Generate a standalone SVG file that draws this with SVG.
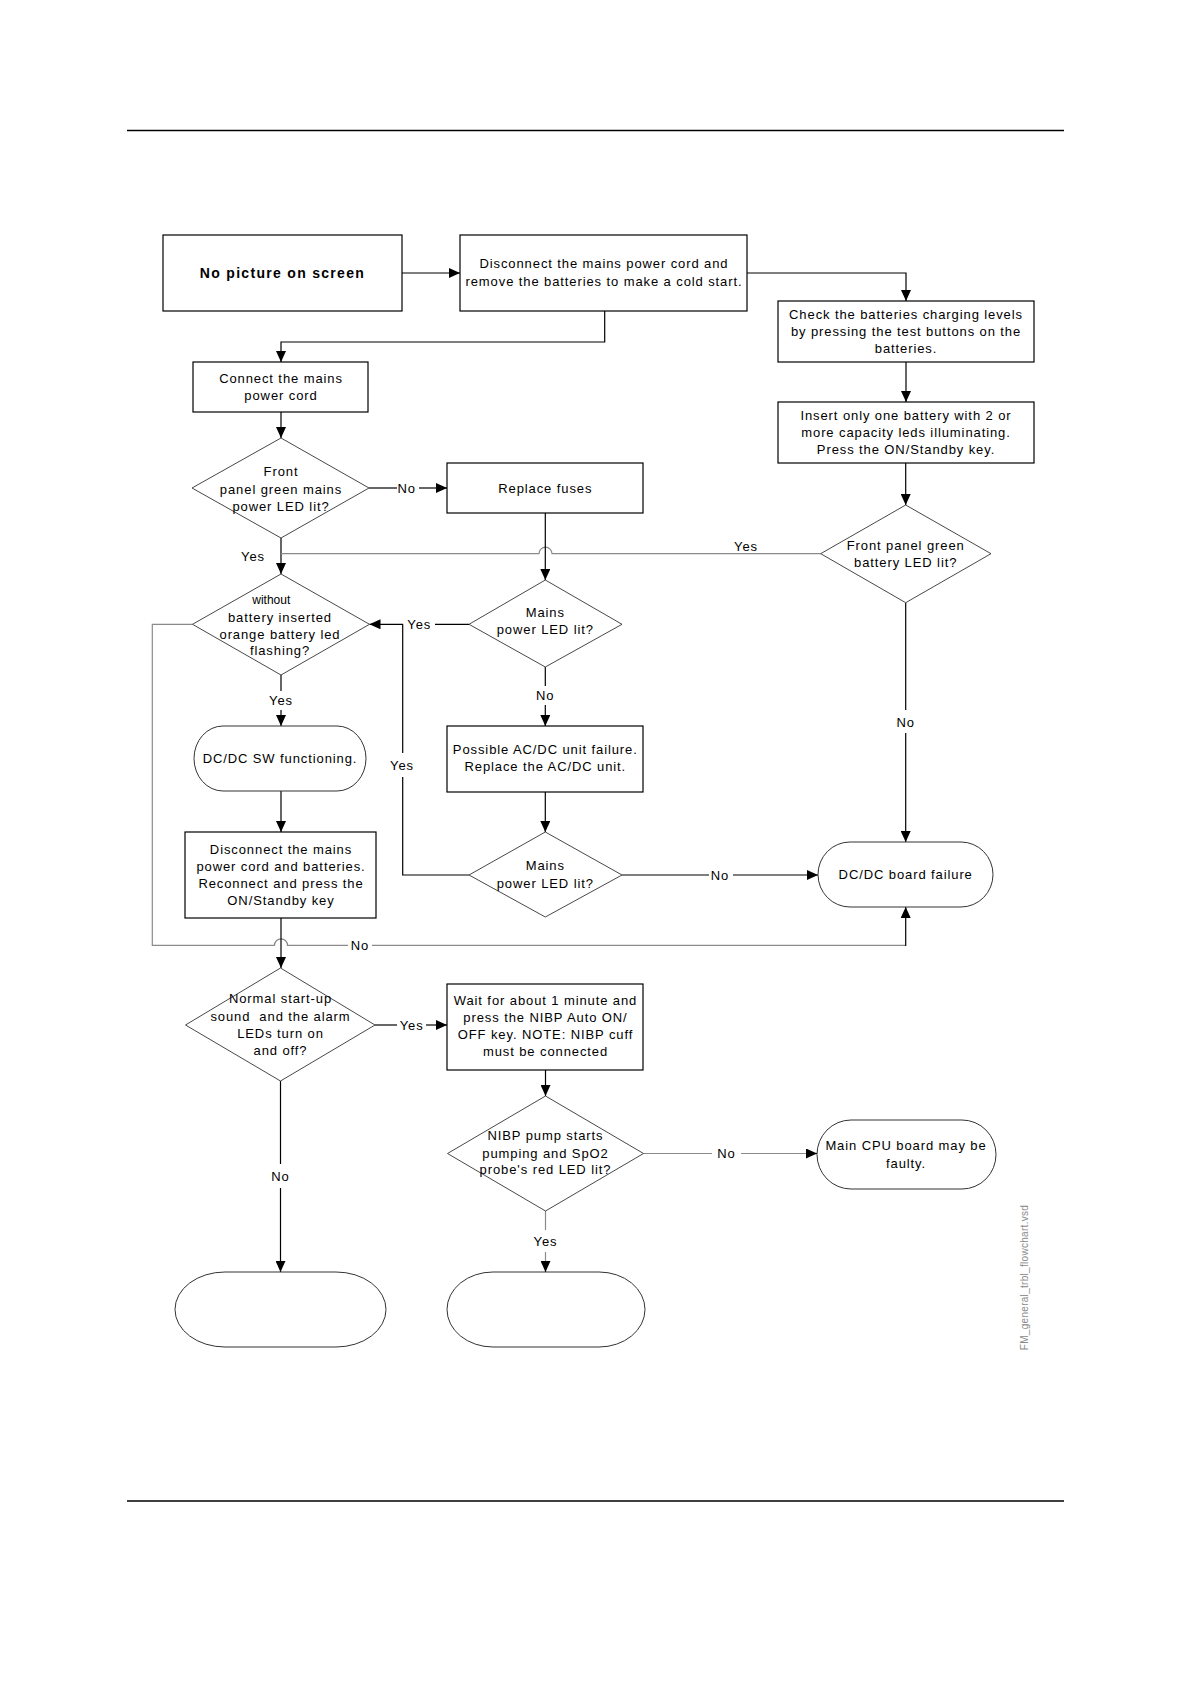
<svg xmlns="http://www.w3.org/2000/svg" width="1190" height="1684" viewBox="0 0 1190 1684">
<defs>
<marker id="ah" viewBox="0 0 11 10" refX="11" refY="5" markerWidth="11" markerHeight="10" markerUnits="userSpaceOnUse" orient="auto"><path d="M0,0 L11,5 L0,10 z" fill="#000"/></marker>
<style>
.box{fill:#fff;stroke:#000;stroke-width:1.2}
.dia{fill:#fff;stroke:#333;stroke-width:0.9}
.term{fill:#fff;stroke:#333;stroke-width:1}
.t{font-family:"Liberation Sans",Arial,sans-serif;font-size:13px;letter-spacing:0.9px;fill:#000;text-anchor:middle}
.b{font-weight:bold;font-size:14px;letter-spacing:1.3px}
.s{font-size:12px;letter-spacing:0}
.c{fill:none;stroke:#000;stroke-width:1.2}
.g{fill:none;stroke:#8a8a8a;stroke-width:1.2}
.rule{stroke:#000;stroke-width:1.4}
</style>
</defs>
<rect width="1190" height="1684" fill="#fff"/>
<line class="rule" x1="127" y1="130.5" x2="1064" y2="130.5"/>
<line class="rule" x1="127" y1="1501" x2="1064" y2="1501" stroke-width="1.6"/>
<text transform="translate(1028,1277.5) rotate(-90)" font-family="'Liberation Sans',Arial,sans-serif" font-size="10" letter-spacing="0.3" fill="#8a8a8a" text-anchor="middle">FM_general_trbl_flowchart.vsd</text>

<g id="connectors">
<path class="c" d="M402,273 H460" marker-end="url(#ah)"/>
<path class="c" d="M747,273 H906 V301" marker-end="url(#ah)"/>
<path class="c" d="M604.7,311 V342 H281 V362" marker-end="url(#ah)"/>
<path class="c" d="M906,362 V402" marker-end="url(#ah)"/>
<path class="c" d="M905.7,463 V505" marker-end="url(#ah)"/>
<path class="c" d="M281,412 V438" marker-end="url(#ah)"/>
<path class="c" d="M369,488 H397"/>
<path class="c" d="M419,488 H447" marker-end="url(#ah)"/>
<path class="c" d="M281,538 V574" marker-end="url(#ah)"/>
<path class="g" d="M820.7,553.7 H552 A6.5,6.5 0 0 0 539,553.7 H281"/>
<path class="c" d="M545.3,513 V580" marker-end="url(#ah)"/>
<path class="c" d="M469,624.3 H435"/>
<path class="c" d="M403,624.3 H369.5" marker-end="url(#ah)"/>
<path class="c" d="M402.7,624.3 V753"/>
<path class="c" d="M402.7,777 V875 H469"/>
<path class="c" d="M281,675 V691"/>
<path class="c" d="M281,710 V726" marker-end="url(#ah)"/>
<path class="g" d="M192.5,624.3 H152.3 V945.3 H274.5 A6.5,6.5 0 0 1 287.5,945.3 H348"/>
<path class="g" d="M372,945.3 H905.7"/>
<path class="c" d="M905.7,946 V907" marker-end="url(#ah)"/>
<path class="c" d="M545.3,667 V686"/>
<path class="c" d="M545.3,705 V726" marker-end="url(#ah)"/>
<path class="c" d="M545.3,792 V832" marker-end="url(#ah)"/>
<path class="c" d="M622,875 H709"/>
<path class="c" d="M733,875 H818" marker-end="url(#ah)"/>
<path class="c" d="M905.7,602.7 V710"/>
<path class="c" d="M905.7,733 V842" marker-end="url(#ah)"/>
<path class="c" d="M281,791 V832" marker-end="url(#ah)"/>
<path class="c" d="M281,918 V968" marker-end="url(#ah)"/>
<path class="c" d="M375,1025 H397"/>
<path class="c" d="M426,1025 H447" marker-end="url(#ah)"/>
<path class="c" d="M545.5,1070 V1096" marker-end="url(#ah)"/>
<path class="c" d="M280.5,1081 V1164"/>
<path class="c" d="M280.5,1188 V1272" marker-end="url(#ah)"/>
<path class="g" d="M545.5,1211 V1230"/>
<path class="g" d="M545.5,1252 V1265"/>
<path class="c" d="M545.5,1264 V1272" marker-end="url(#ah)"/>
<path class="g" d="M643.5,1153.5 H712"/>
<path class="g" d="M741,1153.5 H810"/>
<path class="c" d="M808,1153.5 H817" marker-end="url(#ah)"/>
<text class="t" x="406.7" y="493">No</text>
<text class="t" x="253" y="561">Yes</text>
<text class="t" x="746" y="551">Yes</text>
<text class="t" x="419.3" y="629">Yes</text>
<text class="t" x="402" y="770">Yes</text>
<text class="t" x="281" y="705">Yes</text>
<text class="t" x="360" y="950">No</text>
<text class="t" x="545.3" y="700">No</text>
<text class="t" x="720" y="880">No</text>
<text class="t" x="905.7" y="727">No</text>
<text class="t" x="411.7" y="1030">Yes</text>
<text class="t" x="280.5" y="1181">No</text>
<text class="t" x="545.5" y="1246">Yes</text>
<text class="t" x="726.4" y="1158">No</text>
</g>

<g id="n1"><rect class="box" x="163" y="235" width="239" height="76"/><text class="t b" x="282.5" y="278">No picture on screen</text></g>
<g id="n2"><rect class="box" x="460" y="235" width="287" height="76"/><text class="t" x="604" y="268">Disconnect the mains power cord and</text><text class="t" x="604" y="286">remove the batteries to make a cold start.</text></g>
<g id="n3"><rect class="box" x="778" y="301" width="256" height="61"/><text class="t" x="906" y="319">Check the batteries charging levels</text><text class="t" x="906" y="336">by pressing the test buttons on the</text><text class="t" x="906" y="353">batteries.</text></g>
<g id="n4"><rect class="box" x="778" y="402" width="256" height="61"/><text class="t" x="906" y="420">Insert only one battery with 2 or</text><text class="t" x="906" y="437">more capacity leds illuminating.</text><text class="t" x="906" y="454">Press the ON/Standby key.</text></g>
<g id="n5"><rect class="box" x="193" y="362" width="175" height="50"/><text class="t" x="281" y="383">Connect the mains</text><text class="t" x="281" y="400">power cord</text></g>
<g id="d1"><polygon class="dia" points="281,438 369,488 281,538 192,488"/><text class="t" x="281" y="476">Front</text><text class="t" x="281" y="494">panel green mains</text><text class="t" x="281" y="511">power LED lit?</text></g>
<g id="n6"><rect class="box" x="447" y="463" width="196" height="50"/><text class="t" x="545.3" y="493">Replace fuses</text></g>
<g id="d6"><polygon class="dia" points="905.7,505 991,553.7 905.7,602.7 820.7,553.7"/><text class="t" x="905.7" y="550">Front panel green</text><text class="t" x="905.7" y="567">battery LED lit?</text></g>
<g id="d2"><polygon class="dia" points="281,574 369.5,624.3 281,675 192.5,624.3"/><text class="t s" x="271.3" y="604">without</text><text class="t" x="280" y="622">battery inserted</text><text class="t" x="280" y="639">orange battery led</text><text class="t" x="280" y="655">flashing?</text></g>
<g id="d3"><polygon class="dia" points="545.3,580 622,624.3 545.3,667 469,624.3"/><text class="t" x="545.3" y="617">Mains</text><text class="t" x="545.3" y="634">power LED lit?</text></g>
<g id="n7"><rect class="box" x="447" y="726" width="196" height="66"/><text class="t" x="545.3" y="754">Possible AC/DC unit failure.</text><text class="t" x="545.3" y="771">Replace the AC/DC unit.</text></g>
<g id="n8"><rect class="term" x="194" y="726" width="172" height="65" rx="29" ry="32.5"/><text class="t" x="280" y="763">DC/DC SW functioning.</text></g>
<g id="d4"><polygon class="dia" points="545.3,832 622,875 545.3,917 469,875"/><text class="t" x="545.3" y="870">Mains</text><text class="t" x="545.3" y="888">power LED lit?</text></g>
<g id="n9"><rect class="box" x="185" y="832" width="191" height="86"/><text class="t" x="281" y="854">Disconnect the mains</text><text class="t" x="281" y="871">power cord and batteries.</text><text class="t" x="281" y="888">Reconnect and press the</text><text class="t" x="281" y="905">ON/Standby key</text></g>
<g id="n10"><rect class="term" x="818" y="842" width="175" height="65" rx="32" ry="32.5"/><text class="t" x="905.7" y="879">DC/DC board failure</text></g>
<g id="d5"><polygon class="dia" points="280.5,968 375,1025 280.5,1081 185.5,1025"/><text class="t" x="280.5" y="1003">Normal start-up</text><text class="t" x="280.5" y="1021" xml:space="preserve">sound  and the alarm</text><text class="t" x="280.5" y="1038">LEDs turn on</text><text class="t" x="280.5" y="1055">and off?</text></g>
<g id="n11"><rect class="box" x="447" y="984" width="196" height="86"/><text class="t" x="545.5" y="1005">Wait for about 1 minute and</text><text class="t" x="545.5" y="1022">press the NIBP Auto ON/</text><text class="t" x="545.5" y="1039">OFF key. NOTE: NIBP cuff</text><text class="t" x="545.5" y="1056">must be connected</text></g>
<g id="d7"><polygon class="dia" points="545.5,1096 643.5,1153.5 545.5,1211 447.5,1153.5"/><text class="t" x="545.5" y="1140">NIBP pump starts</text><text class="t" x="545.5" y="1158">pumping and SpO2</text><text class="t" x="545.5" y="1174">probe's red LED lit?</text></g>
<g id="n12"><rect class="term" x="817" y="1120" width="179" height="69" rx="34" ry="34.5"/><text class="t" x="906" y="1150">Main CPU board may be</text><text class="t" x="906" y="1168">faulty.</text></g>
<g id="n13"><rect class="term" x="175" y="1272" width="211" height="75" rx="50" ry="37.5"/></g>
<g id="n14"><rect class="term" x="447" y="1272" width="198" height="75" rx="46" ry="37.5"/></g>
</svg>
